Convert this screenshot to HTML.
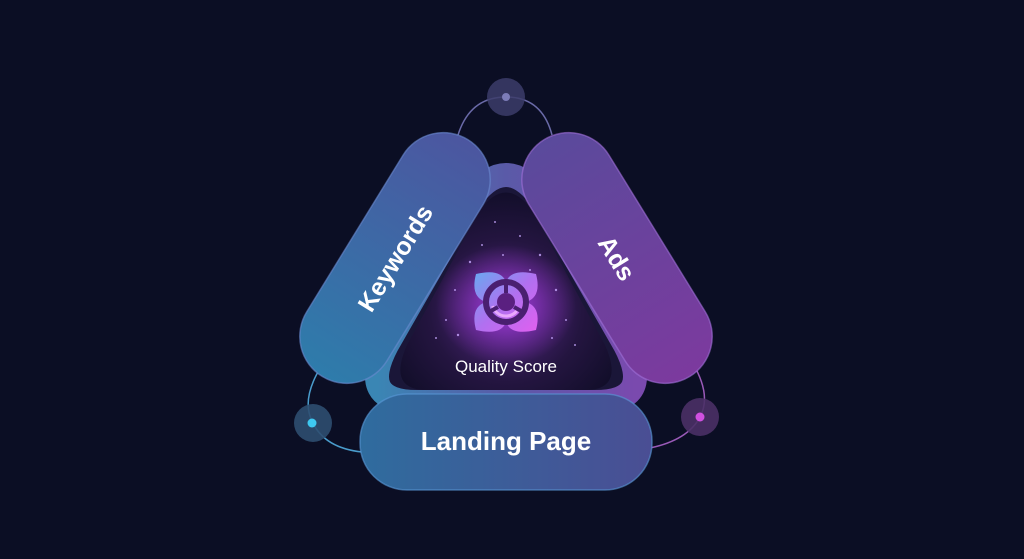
<!DOCTYPE html>
<html><head><meta charset="utf-8"><style>
html,body{margin:0;padding:0;background:#0b0e24;width:1024px;height:559px;overflow:hidden}
svg{display:block}
text{font-family:"Liberation Sans",sans-serif;fill:#fff}
</style></head><body>
<svg width="1024" height="559" viewBox="0 0 1024 559" xmlns="http://www.w3.org/2000/svg">
<defs>
<linearGradient id="kw" x1="0" y1="0" x2="1" y2="0">
<stop offset="0" stop-color="#2e7cab"/><stop offset="1" stop-color="#4c56a0"/></linearGradient>
<linearGradient id="ad" x1="0" y1="0" x2="1" y2="0">
<stop offset="0" stop-color="#5a4a9c"/><stop offset="1" stop-color="#7c3a9e"/></linearGradient>
<linearGradient id="lp" x1="0" y1="0" x2="1" y2="0">
<stop offset="0" stop-color="#2f6c9e"/><stop offset="1" stop-color="#4a4e94"/></linearGradient>
<linearGradient id="ring" x1="0" y1="0" x2="1" y2="0">
<stop offset="0" stop-color="#3a86b4"/><stop offset="0.5" stop-color="#5a5aa8"/><stop offset="1" stop-color="#7a4aae"/></linearGradient>
<radialGradient id="core" cx="0.5" cy="0.6" r="0.6">
<stop offset="0" stop-color="#5a2a8a"/><stop offset="0.6" stop-color="#241540"/><stop offset="1" stop-color="#120e2a"/></radialGradient>
<radialGradient id="glow" cx="0.5" cy="0.5" r="0.5">
<stop offset="0" stop-color="#c040ff" stop-opacity="0.7"/><stop offset="1" stop-color="#c040ff" stop-opacity="0"/></radialGradient>
<linearGradient id="ic" x1="0" y1="0" x2="1" y2="1">
<stop offset="0" stop-color="#6aa8f0"/><stop offset="0.5" stop-color="#b070f0"/><stop offset="1" stop-color="#e060f0"/></linearGradient>
</defs>
<rect width="1024" height="559" fill="#0b0e24"/>
<g fill="none" stroke-width="1.5">
<path d="M458 135 Q470 97 506 97 Q542 97 552 135" stroke="#6a6aa8"/>
<path d="M322 365 Q300 400 313 423 Q325 448 362 452" stroke="#4a9ccc"/>
<path d="M692 362 Q712 395 700 417 Q688 440 650 448" stroke="#9a5ab8"/>
</g>
<circle cx="506" cy="97" r="19" fill="#3c3c6a" opacity="0.85"/>
<circle cx="506" cy="97" r="4" fill="#7c7cb8"/>
<circle cx="313" cy="423" r="19" fill="#2e4e70" opacity="0.9"/>
<circle cx="312" cy="423" r="4.5" fill="#3ec8f0"/>
<circle cx="700" cy="417" r="19" fill="#4a3066" opacity="0.9"/>
<circle cx="700" cy="417" r="4.5" fill="#d050e0"/>
<path d="M470 200 Q506 150 542 200 L625 345 Q655 402 595 402 L417 402 Q357 402 387 345 Z" fill="#1a1638" stroke="url(#ring)" stroke-width="24" stroke-linejoin="round"/>
<path d="M480 210 Q506 175 532 210 L605 345 Q625 390 585 390 L427 390 Q387 390 407 345 Z" fill="url(#core)"/>
<ellipse cx="506" cy="305" rx="70" ry="60" fill="url(#glow)"/>
<g fill="#c8a8ff" opacity="0.8">
<circle cx="495" cy="222" r="1"/><circle cx="520" cy="236" r="1"/><circle cx="482" cy="245" r="1"/><circle cx="540" cy="255" r="1.2"/>
<circle cx="470" cy="262" r="1.2"/><circle cx="455" cy="290" r="1"/><circle cx="556" cy="290" r="1.2"/><circle cx="446" cy="320" r="1"/>
<circle cx="566" cy="320" r="1"/><circle cx="458" cy="335" r="1.2"/><circle cx="552" cy="338" r="1"/><circle cx="436" cy="338" r="1"/>
<circle cx="575" cy="345" r="1"/><circle cx="503" cy="255" r="1"/><circle cx="530" cy="270" r="1"/>
</g>
<g transform="translate(506,302)">
<path d="M-30 -28 Q-5 -34 0 -20 Q5 -34 30 -28 Q36 -5 20 0 Q36 5 30 28 Q5 34 0 20 Q-5 34 -30 28 Q-36 5 -20 0 Q-36 -5 -30 -28 Z" fill="url(#ic)"/>
<circle r="20" fill="none" stroke="#4a1f70" stroke-width="6"/>
<circle r="9" fill="#5a2080"/>
<circle r="14" fill="none" stroke="#f4b8ff" stroke-width="3" stroke-dasharray="30 60" transform="rotate(40)" opacity="0.8"/>
<path d="M0 -20 V-9 M-17 10 L-8 5 M17 10 L8 5" stroke="#4a1f70" stroke-width="4"/>
</g>
<text x="506" y="372" font-size="17" text-anchor="middle" fill="#e8e0ff">Quality Score</text>
<g transform="translate(395,258) rotate(-58.4)">
<rect x="-139" y="-47" width="278" height="94" rx="47" fill="url(#kw)" stroke="#6a8ad0" stroke-opacity="0.6" stroke-width="1.5"/>
<text x="0" y="9" font-size="25" font-weight="bold" text-anchor="middle">Keywords</text>
</g>
<g transform="translate(617,258) rotate(58.4)">
<rect x="-139" y="-47" width="278" height="94" rx="47" fill="url(#ad)" stroke="#a070d8" stroke-opacity="0.6" stroke-width="1.5"/>
<text x="0" y="9" font-size="25" font-weight="bold" text-anchor="middle">Ads</text>
</g>
<rect x="360" y="394" width="292" height="96" rx="47" fill="url(#lp)" stroke="#5a9ad8" stroke-opacity="0.6" stroke-width="1.5"/>
<text x="506" y="450" font-size="26" font-weight="bold" text-anchor="middle">Landing Page</text>
</svg>
</body></html>
